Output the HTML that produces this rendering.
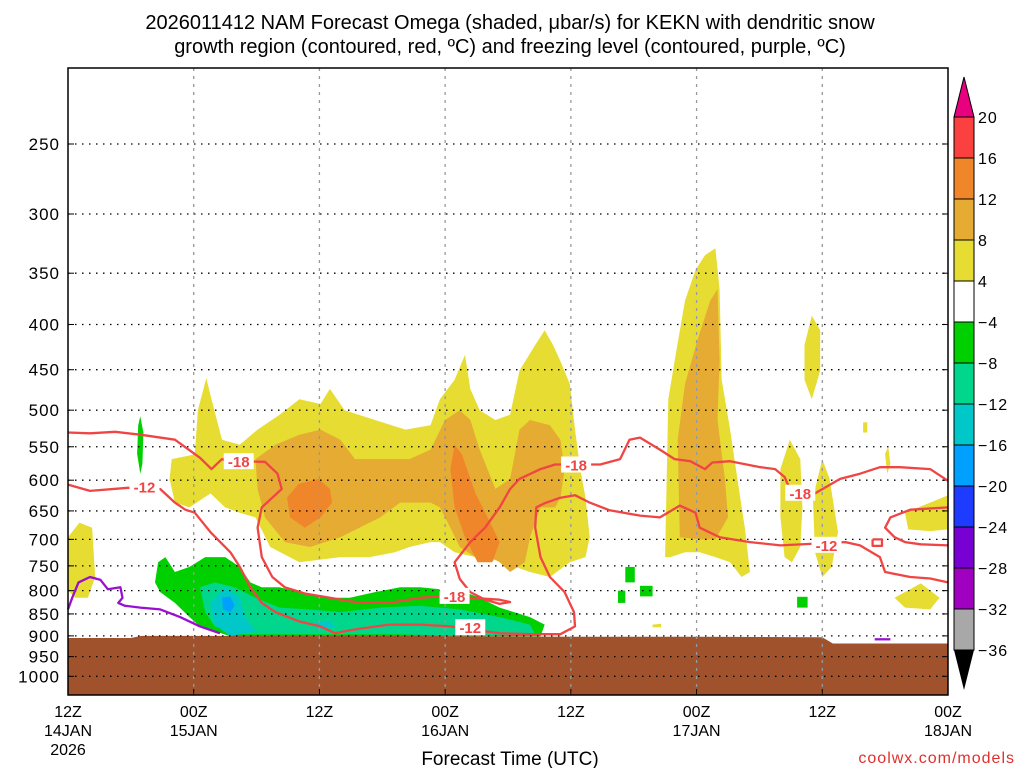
<!DOCTYPE html>
<html><head><meta charset="utf-8"><style>
html,body{margin:0;padding:0;background:#fff;width:1024px;height:768px;overflow:hidden}
svg{display:block;font-family:"Liberation Sans",sans-serif}
</style></head><body>
<svg id="chart" width="1024" height="768" viewBox="0 0 1024 768">
<text x="510" y="29" text-anchor="middle" font-size="20">2026011412 NAM Forecast Omega (shaded, μbar/s) for KEKN with dendritic snow</text>
<text x="510" y="53" text-anchor="middle" font-size="20">growth region (contoured, red, ºC) and freezing level (contoured, purple, ºC)</text>
<g id="plot"></g>
<g id="cbar"></g>
<text x="510" y="765" text-anchor="middle" font-size="19">Forecast Time (UTC)</text>
<text x="1015" y="763" text-anchor="end" font-size="16" fill="#e0302e" letter-spacing="1">coolwx.com/models</text>
</svg>
<script>
// ---- data ----
const pressureTicks = [250,300,350,400,450,500,550,600,650,700,750,800,850,900,950,1000];
const timeTickHours = [0,12,24,36,48,60,72,84];
const timeTickLabels = [["12Z","14JAN","2026"],["00Z","15JAN"],["12Z"],["00Z","16JAN"],["12Z"],["00Z","17JAN"],["12Z"],["00Z","18JAN"]];
const terrainHours = [0,6,7,30,48,60,72,73,84];
const terrainPres = [905,905,900,900,902,902,903,918,918];
const yellowAreas = [
 [[9.9,568],[12.1,561],[12.4,500],[13.2,460],[13.7,486],[14.7,540],[16.4,547],[18.1,526],[20.2,506],[22.1,486],[24.1,492],[25,473],[26.4,500],[29.3,513],[32.2,526],[34.6,520],[35.5,486],[36.9,462],[37.9,433],[38.4,473],[39.3,500],[40.8,513],[42.2,506],[43.1,451],[44.6,422],[45.5,406],[46.3,422],[47,440],[47.9,467],[48.4,526],[48.9,583],[49.4,628],[49.8,696],[49.4,733],[47.9,743],[46,772],[44.1,762],[42.7,752],[41.2,733],[40.3,743],[38.9,733],[36.9,724],[35.5,705],[34.6,705],[32.6,714],[31.2,724],[28.8,733],[26,733],[22.1,743],[19.3,714],[17.9,661],[16.4,653],[15,644],[13.6,621],[11.6,644],[10.2,636],[9.7,598]],
 [[0,696],[1.1,670],[2.3,679],[2.6,772],[1.9,815],[0.7,815],[0,800]],
 [[57,733],[57.3,486],[57.9,440],[58.9,376],[59.9,347],[60.8,334],[61.8,328],[62.2,365],[62.4,462],[63.2,526],[63.9,598],[64.6,679],[65.1,762],[64.3,772],[63.2,743],[61.8,733],[60.3,724],[58.9,724],[57.5,733]],
 [[70.3,422],[71,391],[71.8,406],[71.8,451],[71,486],[70.3,462]],
 [[68,583],[68.9,540],[69.9,568],[70.1,644],[69.9,714],[69.1,743],[68.4,733],[68,661]],
 [[71.1,628],[72,568],[72.7,598],[73.5,687],[72.9,752],[72,772],[71.3,724]],
 [[79.9,653],[82.3,636],[84,624],[84,682],[82.3,685],[80.2,682]],
 [[78.9,815],[81.4,785],[83.2,815],[82.3,840],[79.9,836]],
 [[75.9,516],[76.3,516],[76.3,530],[75.9,530]],
 [[78,560],[78.3,550],[78.5,575],[78.2,590]],
 [[55.8,874],[56.6,872],[56.6,880],[55.8,880]]
];
const goldAreas = [
 [[17.9,568],[19.8,547],[22.1,533],[24.1,526],[26,540],[27.4,568],[29.8,568],[32.6,568],[34.6,554],[36,513],[37.4,500],[38.4,513],[39.3,554],[40.8,614],[42.2,598],[43.1,526],[44.1,513],[46,520],[47,540],[47.4,583],[47,628],[46.5,644],[45.1,644],[44.1,696],[43.6,743],[42.2,762],[41.2,743],[40.3,733],[38.9,733],[37.4,714],[36.5,679],[35.5,644],[34.6,636],[31.7,636],[29.8,661],[26,696],[23.1,714],[20.7,705],[18.8,661],[18.1,614]],
 [[58.4,696],[58.2,540],[58.9,467],[60.1,416],[61.3,376],[62,365],[62.2,440],[62,513],[62.7,598],[63,661],[61.8,700],[60.3,700]]
];
const orangeAreas = [
 [[20.9,628],[22,606],[23.9,598],[25,614],[25.2,636],[24.1,661],[22.6,679],[21.2,661]],
 [[36.5,583],[36.9,547],[37.6,561],[38.9,621],[40.3,670],[41.2,705],[40.5,743],[39.1,743],[37.9,696],[36.9,644]]
];
const greenAreas = [
 [[8.6,743],[9.3,733],[10.2,762],[11.6,752],[13.1,733],[15,733],[16.4,752],[17.4,783],[18.5,793],[20.2,793],[22.1,803],[25,815],[26.9,815],[29.3,803],[31.7,793],[33.6,793],[35.5,797],[37.9,803],[39.3,815],[41.2,836],[44.1,857],[45.5,874],[45.1,901],[22.1,901],[15.5,901],[12.6,878],[11.6,857],[10.2,826],[8.8,803],[8.3,783]],
 [[6.7,520],[6.9,508],[7.2,530],[7.1,575],[6.9,590],[6.6,560]],
 [[53.2,752],[54.1,752],[54.1,783],[53.2,783]],
 [[52.5,800],[53.2,800],[53.2,826],[52.5,826]],
 [[54.6,790],[55.8,790],[55.8,812],[54.6,812]],
 [[69.6,813],[70.6,813],[70.6,836],[69.6,836]]
];
const tealAreas = [
 [[12.6,793],[14,783],[15.9,793],[17.9,815],[20.2,836],[23.1,840],[26,846],[29.8,836],[33.6,832],[37.4,840],[41.2,857],[44.1,874],[44.6,896],[38.4,901],[31.7,896],[24.1,896],[16.4,896],[14,878],[13.1,846]]
];
const cyanAreas = [
 [[13.6,826],[15,793],[16.4,815],[16.9,857],[17.9,889],[15.5,901],[14,874]],
 [[23.5,870],[25,865],[25.5,880],[24,885]]
];
const blueAreas = [
 [[14.7,815],[15.5,812],[15.9,832],[15.5,846],[14.8,840]]
];
const contour18 = [[0,530],[2.1,531],[4.5,529],[6.9,533],[10.2,540],[12.6,566],[13.7,583],[14.7,568],[15.5,571],[18.8,572],[20,590],[20.4,614],[19.5,628],[18.5,644],[18.1,679],[18.5,733],[19.5,772],[20.7,793],[22.6,806],[25,815],[27.9,826],[30.7,826],[33.6,815],[36,811],[38.4,815],[41.2,819],[42.2,824],[41.2,828],[39.8,819],[38.4,803],[37.4,776],[36.9,743],[38.4,705],[39.8,679],[41.2,644],[42.2,614],[43.1,598],[45.1,583],[46.5,576],[50.8,576],[52.7,568],[53.6,540],[54.6,537],[56.5,554],[57.9,568],[59.4,571],[60.8,583],[61.5,573],[63.2,571],[66.1,580],[67.5,583],[68.4,595],[68.9,614],[71.3,621],[73.7,598],[75.6,590],[77.5,580],[79.4,580],[82.3,583],[84,601]];
const contour12a = [[0,607],[2.1,617],[5.7,612],[8.8,614],[10.2,636],[11.2,648],[12.1,653],[13.6,687],[15.5,724],[16.4,752],[17.4,793],[18.5,826],[19.8,846],[22.1,867],[24.1,878],[25.5,894],[26.4,889],[27.9,883],[30.7,874],[33.6,874],[36.5,878],[41.2,894],[44.1,896],[47,896],[48.4,878],[48.3,846],[47.4,803],[46,772],[45.1,733],[44.6,679],[44.7,644],[45.5,637],[47,628],[48.4,624],[49.8,636],[51.7,649],[54.6,658],[56.5,661],[58.4,641],[59.9,653],[60.3,679],[62.2,696],[65.1,705],[68,711],[74.2,705],[75.6,711],[77.5,733],[78,762],[80.4,772],[82.3,775],[84,783]];
const contour12b = [[84,644],[80.4,648],[78.5,661],[78,679],[78.9,696],[79.9,705],[81.4,709],[84,711]];
const contour12c = [[76.8,700],[77.7,700],[77.7,712],[76.8,712],[76.8,700]];
const freezingLine = [[0,840],[0.4,815],[1,783],[2.1,772],[3.1,778],[3.8,797],[5,793],[5.2,815],[4.8,826],[5.4,832],[6.9,836],[8.8,840],[10.7,857],[12.6,878],[14.5,894]];
const freezingLine2 = [[77,908],[78.5,908]];
const contourLabels = [[16.3,571,"-18"],[36.9,811,"-18"],[48.5,576,"-18"],[69.9,620,"-18"],[7.3,610,"-12"],[38.4,880,"-12"],[72.4,710,"-12"]];
const cbarLevels = ["20","16","12","8","4","-4","-8","-12","-16","-20","-24","-28","-32","-36"];
const cbarColors = ["#fb4040","#f0862a","#e6ab32","#e6dc32","#ffffff","#00d000","#00d68c","#00c8c8","#00a0ff","#1e3cff","#7800d2","#a000c0","#a8a8a8"];

// ---- axes ----
const X0=68, X1=948, Y0=68, Y1=695;
const xScale = h => X0 + (h/84)*(X1-X0);
const yScale = p => 144 + 384*Math.log(p/250);
const NS="http://www.w3.org/2000/svg";
const plotG=document.getElementById('plot');
function mk(tag,attrs,parent){const e=document.createElementNS(NS,tag);for(const k in attrs)e.setAttribute(k,attrs[k]);(parent||plotG).appendChild(e);return e;}
const pts = arr => arr.map(d=>xScale(d[0]).toFixed(1)+","+yScale(d[1]).toFixed(1)).join(" ");

function areas(list,color,name){
  list.forEach(a=>{
    const e=mk('polygon',{points:pts(a),fill:color});
    
    
  });
}
areas(yellowAreas,"#e6dc32","omega-4-8-area");
areas(goldAreas,"#e6ab32","omega-8-12-area");
areas(orangeAreas,"#f0862a","omega-12-16-area");
areas(greenAreas,"#00d000","omega-neg4-neg8-area");
areas(tealAreas,"#00d68c","omega-neg8-neg12-area");
areas(cyanAreas,"#00c8c8","omega-neg12-neg16-area");
areas(blueAreas,"#00a0ff","omega-neg16-neg20-area");

// terrain
const tp=terrainHours.map((h,i)=>[h,terrainPres[i]]);
const terr=mk('polygon',{points:pts(tp)+" "+X1+","+Y1+" "+X0+","+Y1,fill:"#a0522d"});



// grid
pressureTicks.forEach(p=>{
  const y=yScale(p);
  const g=mk('line',{x1:X0,x2:X1,y1:y,y2:y,stroke:"#000","stroke-width":1.3,"stroke-dasharray":"1.5 5.5"});
  
  
  const t=mk('text',{x:60,y:y+6,"text-anchor":"end","font-size":17,"letter-spacing":"1"});
  t.textContent=p;
  
  
  mk('line',{x1:X0,x2:X0+6,y1:y,y2:y,stroke:"#000"});
  mk('line',{x1:X1-6,x2:X1,y1:y,y2:y,stroke:"#000"});
});
timeTickHours.forEach((h,i)=>{
  const x=xScale(h);
  if(i>0&&i<timeTickHours.length-1){
    const g=mk('line',{x1:x,x2:x,y1:Y0,y2:Y1,stroke:"#999","stroke-width":1.3,"stroke-dasharray":"3 5"});
    
    
  }
  mk('line',{x1:x,x2:x,y1:Y1-6,y2:Y1,stroke:"#000"});
  timeTickLabels[i].forEach((s,j)=>{
    const t=mk('text',{x:x,y:717+j*19,"text-anchor":"middle","font-size":16});
    t.textContent=s;
    
    
  });
});

// contours
function line(arr,color,name){
  const e=mk('polyline',{points:pts(arr),fill:"none",stroke:color,"stroke-width":2.3,"stroke-linejoin":"round"});
  
  
}
line(contour18,"#f04545","dgz-contour-minus18");
line(contour12a,"#f04545","dgz-contour-minus12");
line(contour12b,"#f04545","dgz-contour-minus12-right");
line(contour12c,"#f04545","dgz-contour-minus12-loop");
line(freezingLine,"#9a10d0","freezing-level-contour");
line(freezingLine2,"#9a10d0","freezing-level-contour-small");
contourLabels.forEach(c=>{
  const x=xScale(c[0]), y=yScale(c[1]);
  mk('rect',{x:x-15,y:y-8,width:30,height:16,fill:"#fff"});
  const t=mk('text',{x:x,y:y+6,"text-anchor":"middle","font-size":15,"font-weight":"bold",fill:"#f04545"});
  t.textContent=c[2];
  
  
});

// frame
const fr=mk('rect',{x:X0,y:Y0,width:X1-X0,height:Y1-Y0,fill:"none",stroke:"#000","stroke-width":1.5});



// colorbar
const cbG=document.getElementById('cbar');
const CX=954, CW=20, CT=117, CH=41;
const cbTop=mk('polygon',{points:`${CX},${CT} ${CX+CW},${CT} ${CX+CW/2},77`,fill:"#e8007e",stroke:"#000"},cbG);


cbarColors.forEach((c,i)=>{
  const r=mk('rect',{x:CX,y:CT+i*CH,width:CW,height:CH,fill:c,stroke:"#000","stroke-width":1},cbG);
  
  
});
const cbBot=mk('polygon',{points:`${CX},${CT+13*CH} ${CX+CW},${CT+13*CH} ${CX+CW/2},690`,fill:"#000"},cbG);


cbarLevels.forEach((s,i)=>{
  const t=mk('text',{x:978,y:CT+i*CH+6,"font-size":16,"letter-spacing":"1"},cbG);
  t.textContent=s.replace('-','−');
  
  
});
</script>
</body></html>
